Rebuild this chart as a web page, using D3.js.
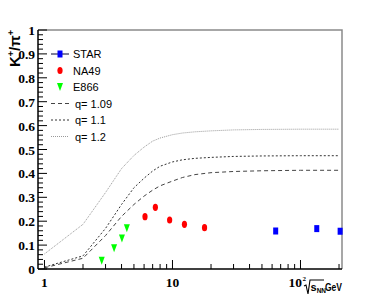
<!DOCTYPE html>
<html>
<head>
<meta charset="utf-8">
<script src="https://cdn.jsdelivr.net/npm/d3@7"></script>
<style>
  body { margin: 0; background: #fff; }
  .tick-label { font-family: "Liberation Serif", serif; font-weight: bold; font-size: 13.5px; }
  .legend-text { font-family: "Liberation Sans", Arial, sans-serif; font-size: 11px; }
</style>
</head>
<body>
<svg id="chart"></svg>
<script>
// measured points
const starE = [64, 134, 204];
const starR = [0.159, 0.169, 0.158];
const na49E = [6.1, 7.35, 9.5, 12.4, 17.8];
const na49R = [0.219, 0.258, 0.205, 0.187, 0.173];
const e866E = [2.8, 3.5, 4.03, 4.4];
const e866R = [0.035, 0.087, 0.128, 0.17];

// model curves (q values)
const modelE = [1, 2, 3, 4, 5, 6, 7, 8, 10, 12, 15, 20, 30, 50, 100, 200];
const q109 = [0.005, 0.045, 0.14, 0.22, 0.27, 0.305, 0.33, 0.348, 0.368, 0.383, 0.395, 0.403, 0.408, 0.411, 0.413, 0.413];
const q110 = [0.008, 0.055, 0.17, 0.27, 0.34, 0.38, 0.41, 0.43, 0.448, 0.457, 0.463, 0.467, 0.471, 0.473, 0.474, 0.474];
const q120 = [0.063, 0.187, 0.32, 0.42, 0.475, 0.51, 0.535, 0.548, 0.562, 0.569, 0.574, 0.578, 0.582, 0.584, 0.585, 0.585];

const yTicks = d3.range(0, 1.0001, 0.1);
const xMajor = [1, 10, 100];
const xMinor = [2, 3, 4, 5, 6, 7, 8, 9, 20, 30, 40, 50, 60, 70, 80, 90, 200];

const W = 382, H = 300;
const mLeft = 38, mRight = 342, mTop = 30, mBottom = 269;

const svg = d3.select("#chart").attr("width", W).attr("height", H);

const x = d3.scaleLog().domain([0.89, 211]).range([mLeft, mRight]);
const y = d3.scaleLinear().domain([0, 1]).range([mBottom, mTop]);

// frame (top & right gray)
svg.append("path")
    .attr("d", `M${mLeft},${mTop}H${mRight}V${mBottom}`)
    .attr("fill", "none").attr("stroke", "#8a8a8a").attr("stroke-width", 1.5);

// y axis
let yAxis = svg.append("g").attr("transform", `translate(${mLeft},0)`);
yAxis.append("line").attr("y1", mTop).attr("y2", mBottom).attr("stroke", "#000").attr("stroke-width", 1.5);
d3.range(0, 1.0001, 0.02).forEach((v, i) => {
    yAxis.append("line")
        .attr("x1", 0).attr("x2", i % 5 === 0 ? 9 : 5)
        .attr("y1", y(v)).attr("y2", y(v))
        .attr("stroke", "#000").attr("stroke-width", 1);
});
yAxis.selectAll("text.tick-label")
    .data(yTicks)
    .enter().append("text")
        .attr("class", "tick-label")
        .attr("x", -3)
        .attr("y", d => y(d) + 5)
        .attr("text-anchor", "end")
        .text(d => d === 0 ? "0" : d >= 0.999 ? "1" : d3.format(".1f")(d));

// x axis
let xAxis = svg.append("g").attr("transform", `translate(0,${mBottom})`);
xAxis.append("line").attr("x1", mLeft).attr("x2", mRight).attr("stroke", "#000").attr("stroke-width", 1.5);
xMajor.forEach(v => {
    xAxis.append("line").attr("x1", x(v)).attr("x2", x(v)).attr("y1", 0).attr("y2", -9).attr("stroke", "#000");
});
xMinor.forEach(v => {
    xAxis.append("line").attr("x1", x(v)).attr("x2", x(v)).attr("y1", 0).attr("y2", -5).attr("stroke", "#000");
});
xAxis.append("text").attr("class", "tick-label").attr("x", x(1)).attr("y", 18).attr("text-anchor", "middle").text("1");
xAxis.append("text").attr("class", "tick-label").attr("x", x(10)).attr("y", 18).attr("text-anchor", "middle").text("10");
xAxis.append("text").attr("class", "tick-label").attr("x", x(100) + 1.5).attr("y", 18).attr("text-anchor", "end").text("10");
xAxis.append("text").attr("class", "tick-label").attr("x", x(100) + 2).attr("y", 12).style("font-size", "7px").text("2");

// x title: sqrt(s_NN) GeV
let xt = svg.append("g").attr("transform", `translate(0,${mBottom + 22})`)
    .style("font-family", "Liberation Sans, Arial, sans-serif").style("font-weight", "bold");
xt.append("path").attr("d", "M304,-5 L306,-6 L308,3 L310,-11 H324")
    .attr("fill", "none").attr("stroke", "#000").attr("stroke-width", 1.1);
let st = xt.append("text").attr("x", 310.5).attr("y", 0).style("font-size", "11px");
st.append("tspan").text("s");
st.append("tspan").attr("dy", 2).style("font-size", "6.5px").text("NN");
xt.append("text").attr("x", 342).attr("y", 0).attr("text-anchor", "end")
    .attr("textLength", 17).attr("lengthAdjust", "spacingAndGlyphs")
    .style("font-size", "11px").text("GeV");

// y title
svg.append("text")
    .attr("transform", `translate(20,${mTop}) rotate(-90)`)
    .attr("text-anchor", "end")
    .style("font-family", "Liberation Sans, Arial, sans-serif").style("font-weight", "bold").style("font-size", "15px")
    .html('K<tspan dy="-6" font-size="9px">+</tspan><tspan dy="6">/π</tspan><tspan dy="-6" font-size="9px">+</tspan>');

// model curves
const line = d3.line().x(d => x(d[0])).y(d => y(d[1]));
const curves = [
    { vals: q109, dash: "4,3", color: "#444", label: "q= 1.09" },
    { vals: q110, dash: "2,2", color: "#333", label: "q= 1.1" },
    { vals: q120, dash: "1,1", color: "#999", label: "q= 1.2" }
];
curves.forEach(c => {
    svg.append("path")
        .datum(modelE.map((e, i) => [e, c.vals[i]]))
        .attr("d", line)
        .attr("fill", "none")
        .attr("stroke", c.color)
        .attr("stroke-width", 1)
        .attr("stroke-dasharray", c.dash);
});

// markers
const triangle = (cx, cy) => `M${cx - 3},${cy - 4}L${cx + 3},${cy - 4}L${cx},${cy + 4}Z`;

svg.selectAll("rect.star")
    .data(starE.map((e, i) => [e, starR[i]]))
    .enter().append("rect")
        .attr("class", "star")
        .attr("x", d => x(d[0]) - 2.5).attr("y", d => y(d[1]) - 3.5)
        .attr("width", 5).attr("height", 7)
        .attr("fill", "#0000ff");

svg.selectAll("ellipse.na49")
    .data(na49E.map((e, i) => [e, na49R[i]]))
    .enter().append("ellipse")
        .attr("class", "na49")
        .attr("cx", d => x(d[0])).attr("cy", d => y(d[1]))
        .attr("rx", 2.6).attr("ry", 3.6)
        .attr("fill", "#ff0000");

svg.selectAll("path.e866")
    .data(e866E.map((e, i) => [e, e866R[i]]))
    .enter().append("path")
        .attr("class", "e866")
        .attr("d", d => triangle(x(d[0]), y(d[1])))
        .attr("fill", "#00ff00");

// legend
let lg = svg.append("g");
const lx = 60, ly0 = 54, dy = 16.5;
lg.append("line").attr("x1", 51).attr("x2", 69).attr("y1", ly0).attr("y2", ly0).attr("stroke", "#000033");
lg.append("rect").attr("x", lx - 2.5).attr("y", ly0 - 3.5).attr("width", 5).attr("height", 7).attr("fill", "#0000ff");
lg.append("ellipse").attr("cx", lx).attr("cy", ly0 + dy).attr("rx", 2.6).attr("ry", 3.6).attr("fill", "#ff0000");
lg.append("path").attr("d", triangle(lx, ly0 + 2 * dy)).attr("fill", "#00ff00");
["STAR", "NA49", "E866"].forEach((t, i) => {
    lg.append("text").attr("class", "legend-text").attr("x", 73).attr("y", ly0 + i * dy + 4).text(t);
});
curves.forEach((c, i) => {
    let yy = ly0 + (3 + i) * dy;
    lg.append("line").attr("x1", 51).attr("x2", 69).attr("y1", yy).attr("y2", yy)
        .attr("stroke", c.color).attr("stroke-dasharray", c.dash);
    lg.append("text").attr("class", "legend-text").attr("x", 75).attr("y", yy + 4).text(c.label);
});
</script>
</body>
</html>
